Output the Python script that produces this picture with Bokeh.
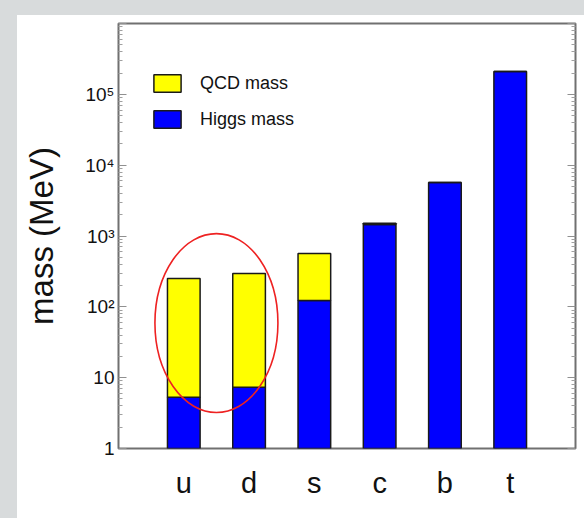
from bokeh.plotting import figure
from bokeh.models import (Range1d, LogAxis, FixedTicker, Legend, LegendItem,
                          ColumnDataSource)
from bokeh.embed import file_html
from bokeh.resources import INLINE

# ---- data ----
quarks = ["u", "d", "s", "c", "b", "t"]
higgs_mass = [5.3, 7.3, 123, 1450, 5700, 210000]
total_mass = [251, 296, 566, 1510, 5700, 210000]
y_ticks = [1, 10, 100, 1000, 10000, 100000, 1000000]
y_tick_labels = ["1", "10", "10\u00b2", "10\u00b3", "10\u2074", "10\u2075", ""]
y_min, y_max = 1, 1000000

FONT = "'Liberation Sans Narrow', 'Liberation Sans', Arial, sans-serif"
GREY = "#d8dbdc"

pos = [i + 1 for i in range(len(quarks))]
src = ColumnDataSource(dict(x=pos, base=[y_min] * len(quarks),
                            higgs=higgs_mass, total=total_mass))

p = figure(width=584, height=518, output_backend="svg", toolbar_location=None,
           y_axis_type="log", x_range=Range1d(0, len(quarks) + 1),
           y_range=Range1d(y_min, y_max),
           min_border_left=118, min_border_right=9, min_border_top=23,
           min_border_bottom=70)
p.border_fill_color = None
p.background_fill_color = "white"
p.styles = {"background": (
    f"linear-gradient({GREY}, {GREY}) left top / 17px 100% no-repeat, "
    f"linear-gradient({GREY}, {GREY}) left top / 100% 15px no-repeat, white")}
p.outline_line_color = "#707070"
p.outline_line_width = 2
p.xgrid.visible = False
p.ygrid.visible = False

higgs_r = p.vbar(x="x", width=0.5, bottom="base", top="higgs", source=src,
                 fill_color="#0000ff", line_color="#1a1a1a", line_width=1.5)
qcd_r = p.vbar(x="x", width=0.5, bottom="higgs", top="total", source=src,
               fill_color="#ffff00", line_color="#1a1a1a", line_width=1.5)

# red ellipse around the light quarks
p.ellipse(x=[(pos[0] + pos[1]) / 2], y=[59], width=123, height=179,
          width_units="screen", height_units="screen",
          fill_color=None, line_color="#ee2222", line_width=1.6)

minor = [m * d for d in y_ticks[:-1] for m in range(2, 10)]

# x axis
p.xaxis.ticker = FixedTicker(ticks=pos)
p.xaxis.major_label_overrides = {x: q for x, q in zip(pos, quarks)}
p.xaxis.major_label_text_font = FONT
p.xaxis.major_label_text_font_size = "29px"
p.xaxis.major_label_text_color = "#111111"
p.xaxis.major_label_standoff = 12
p.xaxis.major_tick_line_color = None
p.xaxis.minor_tick_line_color = None
p.xaxis.axis_line_color = None

# left y axis
ya = p.yaxis[0]
ya.ticker = FixedTicker(ticks=y_ticks, minor_ticks=minor)
ya.major_label_overrides = {t: l for t, l in zip(y_ticks, y_tick_labels)}
ya.major_label_text_font = FONT
ya.major_label_text_font_size = "19px"
ya.major_label_text_color = "#111111"
ya.major_label_standoff = 4
ya.major_tick_in = 8
ya.major_tick_out = 0
ya.minor_tick_in = 4
ya.minor_tick_out = 0
ya.major_tick_line_color = "#909090"
ya.minor_tick_line_color = "#a0a0a0"
ya.axis_line_color = None
ya.axis_label = "mass (MeV)"
ya.axis_label_text_font = FONT
ya.axis_label_text_font_size = "33px"
ya.axis_label_text_font_style = "normal"
ya.axis_label_text_color = "#111111"
ya.axis_label_standoff = 22

# right y axis (ticks only)
ra = LogAxis(ticker=FixedTicker(ticks=y_ticks, minor_ticks=minor))
ra.major_label_overrides = {t: " " for t in y_ticks}
ra.major_label_text_font_size = "1px"
ra.major_label_standoff = 0
ra.axis_label_standoff = 0
ra.major_tick_in = 8
ra.major_tick_out = 0
ra.minor_tick_in = 4
ra.minor_tick_out = 0
ra.major_tick_line_color = "#909090"
ra.minor_tick_line_color = "#a0a0a0"
ra.axis_line_color = None
p.add_layout(ra, "right")

legend = Legend(items=[LegendItem(label="QCD mass", renderers=[qcd_r]),
                       LegendItem(label="Higgs mass", renderers=[higgs_r])],
                location=(32, 318), orientation="vertical")
legend.glyph_width = 34
legend.glyph_height = 22
legend.spacing = 14
legend.padding = 0
legend.margin = 0
legend.label_standoff = 16
legend.label_text_font = FONT
legend.label_text_font_size = "18px"
legend.label_text_color = "#111111"
legend.border_line_color = None
legend.background_fill_alpha = 0
p.add_layout(legend, "center")

open("out.html", "w").write(file_html(p, INLINE))
